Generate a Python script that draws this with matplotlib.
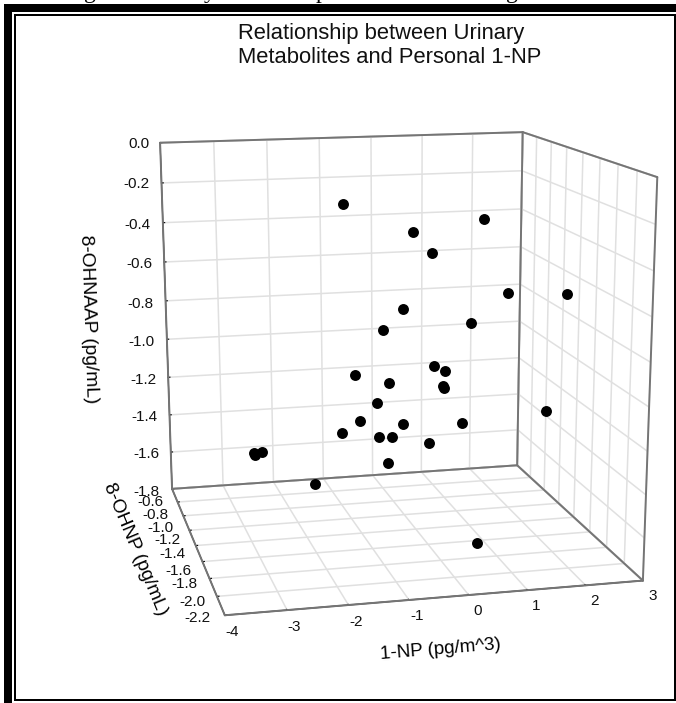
import numpy as np
import matplotlib
matplotlib.use('Agg')
import matplotlib.pyplot as plt
from matplotlib.patches import Rectangle
from matplotlib.transforms import IdentityTransform, Affine2D

plt.rcParams['font.family'] = ['Liberation Sans', 'DejaVu Sans']

W, H = 676, 703

# data values
x_values = [-0.92, 1.6, 0.38, 0.51, 1.81, 2.62, 0.09, -0.49, 1.25, -0.72, -0.28, 0.44, 0.53, 0.61, 0.75,
            -0.41, 1.98, 0.85, -0.63, -1.07, -0.13, -0.47, -0.33, 0.24, -0.62, -2.63, -2.43, -2.65, -1.68, 0.83]
y_values = [-1.0, -1.1, -1.0, -1.2, -1.3, -1.5, -1.1, -1.3, -1.2, -1.0, -1.2, -1.3, -1.4, -1.3, -1.2,
            -1.1, -1.7, -1.4, -1.0, -1.1, -1.3, -1.2, -1.3, -1.4, -1.5, -1.0, -0.9, -1.0, -1.2, -1.65]
z_values = [-0.27, -0.35, -0.42, -0.49, -0.68, -0.65, -0.78, -0.83, -0.84, -1.13, -1.12, -1.02, -1.02, -1.12, -1.16,
            -1.25, -1.15, -1.28, -1.37, -1.39, -1.3, -1.39, -1.36, -1.37, -1.42, -1.51, -1.53, -1.5, -1.61, -1.79]
x_ticks = [-4, -3, -2, -1, 0, 1, 2, 3]
y_ticks = [-0.6, -0.8, -1.0, -1.2, -1.4, -1.6, -1.8, -2.0, -2.2]
z_ticks = [0.0, -0.2, -0.4, -0.6, -0.8, -1.0, -1.2, -1.4, -1.6, -1.8]
title_text = 'Relationship between Urinary\nMetabolites and Personal 1-NP'
x_label, y_label, z_label = '1-NP (pg/m^3)', '8-OHNP (pg/mL)', '8-OHNAAP (pg/mL)'

# camera: homography (data -> image pixels) fitted to the box corners of the reference
box = [((-4, -0.6, 0.0), (160, 143)), ((3, -0.6, 0.0), (523, 132)), ((3, -2.2, 0.0), (657, 177)),
       ((-4, -0.6, -1.8), (172, 488)), ((3, -0.6, -1.8), (517, 466)), ((3, -2.2, -1.8), (643, 580)),
       ((-4, -2.2, -1.8), (225, 616))]
rows = []
for (X, Y, Z), (u, v) in box:
    rows.append([X, Y, Z, 1, 0, 0, 0, 0, -u * X, -u * Y, -u * Z, -u])
    rows.append([0, 0, 0, 0, X, Y, Z, 1, -v * X, -v * Y, -v * Z, -v])
P = np.linalg.svd(np.array(rows, float))[2][-1].reshape(3, 4)
P = P / P[2, 3]

fig = plt.figure(figsize=(W / 100, H / 100), dpi=100)
ax = fig.add_axes([0, 0, 1, 1], projection='3d')


def get_proj():
    disp = np.vstack([P[0], H * P[2] - P[1], P[2]])
    d = ax.transData.inverted().get_matrix() @ disp
    return np.vstack([d[0], d[1], P[2] - np.array([0, 0, 0, 1.0]), d[2]])


ax.get_proj = get_proj
ax.patch.set_alpha(0)

ax.scatter(x_values, y_values, z_values, s=62, c='black', linewidths=0, depthshade=False)
ax.set_xlim(-4, 3)
ax.set_ylim(-2.2, -0.6)
ax.set_zlim(-1.8, 0.0)
ax.set_xticks(x_ticks, [str(t) for t in x_ticks])
ax.set_yticks(y_ticks, [f'{t:.1f}' for t in y_ticks])
ax.set_zticks(z_ticks, [f'{t:.1f}' for t in z_ticks])
ax.set_xlabel(x_label, fontsize=13.5, labelpad=12)
ax.set_ylabel(y_label, fontsize=13.7, labelpad=12)
ax.set_zlabel(z_label, fontsize=13.8, labelpad=12)
ax.tick_params(labelsize=11, pad=2, labelcolor='#111111')

for axis in (ax.xaxis, ax.yaxis, ax.zaxis):
    axis.pane.set_facecolor('white')
    axis.pane.set_edgecolor('#7a7a7a')
    axis.pane.set_linewidth(1.3)
    axis._axinfo['grid'].update(color='#e0e0e0', linewidth=1.1)
    axis._axinfo['axisline']['color'] = '#6a6a6a'
    axis._axinfo['tick']['color'] = '#6a6a6a'
    axis._axinfo['tick']['linewidth'] = {True: 0.8, False: 0.5}
    axis._axinfo['tick']['outward_factor'] = 0.06
    axis._axinfo['tick']['inward_factor'] = 0.0


def shift(artist, dx, dy):
    """Offset a text by pixels (image y down) at draw time."""
    offset = Affine2D().translate(dx, -dy)
    artist.get_transform = lambda: ax.transData + offset


def shift_ticks(axis, offsets):
    original = axis._update_ticks

    def update():
        ticks = original()
        for t in ticks:
            dx, dy = offsets(t.get_loc())
            shift(t.label1, dx, dy)
        return ticks

    axis._update_ticks = update


y_dx = dict(zip(y_ticks, [-8, -8, -8, -7, -8, -8, -9, -8, -10]))
y_dy = dict(zip(y_ticks, [-8, -8, -9, -12, -14, -13, -18, -18, -21]))
z_dx = dict(zip(z_ticks, [-5, -9, -9, -9, -9, -9, -9, -9, -9, -10]))
z_dy = dict(zip(z_ticks, [-5, -5, -3, -3, -2, -2, -2, -2, -2, -1]))
shift_ticks(ax.xaxis, lambda loc: (4, -12))
shift_ticks(ax.yaxis, lambda loc: (y_dx[round(loc, 1)], y_dy[round(loc, 1)]))
shift_ticks(ax.zaxis, lambda loc: (z_dx[round(loc, 1)], z_dy[round(loc, 1)]))
shift(ax.xaxis.label, -13, -19)
shift(ax.yaxis.label, -11, -47)
shift(ax.zaxis.label, -25, 6)

# dark outline of the three walls, over the grid
x0, x1 = -4, 3
y0, y1 = -2.2, -0.6
z0, z1 = -1.8, 0.0
edges = [((x0, y1, z1), (x1, y1, z1)), ((x1, y1, z1), (x1, y0, z1)), ((x0, y1, z1), (x0, y1, z0)),
         ((x1, y1, z1), (x1, y1, z0)), ((x1, y0, z1), (x1, y0, z0)), ((x0, y1, z0), (x1, y1, z0)),
         ((x1, y1, z0), (x1, y0, z0)), ((x1, y0, z0), (x0, y0, z0)), ((x0, y0, z0), (x0, y1, z0))]
for a, b in edges:
    ax.plot(*zip(a, b), color='#757575', linewidth=1.4, solid_capstyle='round')

ax.set_title(title_text, loc='left', x=238 / W, y=(H - 63 - 8.33 - 13.5) / W, fontsize=15.8,
             linespacing=1.2, color='#111111')

# page frame of the scanned figure
px = IdentityTransform()
for (a0, b0, a1, b1) in [(4, 4, W, 12), (4, 4, 12, H), (14, 14, W, 16), (14, 14, 16, 701), (14, 699, W, 701), (674, 14, W, 701)]:
    fig.add_artist(Rectangle((a0, H - b1), a1 - a0, b1 - b0, transform=px, fc='black', ec='none', zorder=5))
for ch, cx in [('g', 90), ('y', 210), ('p', 322), ('g', 512)]:
    fig.text(cx, H + 2, ch, transform=px, family='Liberation Serif', fontsize=17, ha='center', va='baseline', color='black')

fig.savefig('out.png', dpi=100)
